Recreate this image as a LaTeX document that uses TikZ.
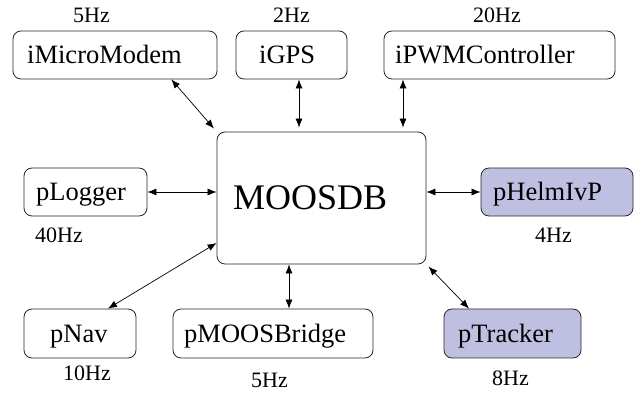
\documentclass[tikz,border=0pt]{standalone}
\usepackage{fontspec}
\setmainfont{Liberation Serif}
\usetikzlibrary{arrows.meta,calc}
\definecolor{lav}{RGB}{191,191,225}
\definecolor{edge}{RGB}{40,40,40}
\tikzset{
  box/.style={draw=edge, line width=0.8pt, rounded corners=8pt, inner sep=0pt},
  boxtxt/.style={font=\fontsize{26.5}{30}\selectfont, anchor=base west, inner sep=0pt},
  hz/.style={font=\fontsize{22}{26}\selectfont, anchor=base west, inner sep=0pt},
  link/.style={line width=0.7pt, {Latex[length=9pt,width=7pt]}-{Latex[length=9pt,width=7pt]}}
}
\begin{document}
\begin{tikzpicture}[x=1pt,y=-1pt]
\useasboundingbox (0,0) rectangle (641,393);
% boxes
\node[box, minimum width=204pt, minimum height=48pt] (mm) at (115,55) {};
\node[box, minimum width=111pt, minimum height=48pt] (gps) at (291.5,55) {};
\node[box, minimum width=231pt, minimum height=48pt] (pwm) at (499.5,55) {};
\node[box, minimum width=209pt, minimum height=132pt] (db) at (321.5,198) {};
\node[box, minimum width=123pt, minimum height=48pt] (log) at (85.5,192) {};
\node[box, fill=lav, minimum width=152pt, minimum height=48pt] (helm) at (557,192) {};
\node[box, minimum width=112pt, minimum height=49pt] (nav) at (80,333.5) {};
\node[box, minimum width=200pt, minimum height=49pt] (bridge) at (273,333.5) {};
\node[box, fill=lav, minimum width=137pt, minimum height=49pt] (trk) at (512.5,333.5) {};
% box texts
\node[boxtxt] (tmm) at (27,63.5) {iMicroModem};
\node[boxtxt] (tgps) at (259,63.5) {iGPS};
\node[boxtxt] (tpwm) at (395,63.5) {iPWMController};
\node[font=\fontsize{36}{40}\selectfont, anchor=base west, inner sep=0pt] (tdb) at (233,209.5) {MOOSDB};
\node[boxtxt] (tlog) at (36,200.5) {pLogger};
\node[boxtxt] (thelm) at (493,200.5) {pHelmIvP};
\node[boxtxt] (tnav) at (50,342.5) {pNav};
\node[boxtxt] (tbridge) at (184,342.5) {pMOOSBridge};
\node[boxtxt] (ttrk) at (458,342.5) {pTracker};
% rates
\node[hz] (hmm) at (73,23) {5Hz};
\node[hz] (hgps) at (273,23) {2Hz};
\node[hz] (hpwm) at (473,23) {20Hz};
\node[hz] (hlog) at (35,243) {40Hz};
\node[hz] (hhelm) at (535,243) {4Hz};
\node[hz] (hnav) at (63,381) {10Hz};
\node[hz] (hbridge) at (251,388) {5Hz};
\node[hz] (htrk) at (492,385) {8Hz};
% connector ends
\coordinate (m1) at ($(mm.south)!0.55!(mm.south east)$);
\coordinate (g1) at ([xshift=7.5pt]gps.south);
\coordinate (p1) at ([xshift=-96.5pt]pwm.south);
\coordinate (n1) at ([yshift=-45pt]db.west);
\coordinate (n2) at ([xshift=28pt]nav.north);
\coordinate (b1) at ([xshift=16pt]bridge.north);
\coordinate (t1) at ([xshift=-43.5pt]trk.north);
% connectors
\draw[link, shorten >=4pt] (m1) -- (db.north west);
\draw[link, shorten >=4pt] (g1) -- (g1 |- db.north);
\draw[link, shorten >=4pt] (p1) -- (p1 |- db.north);
\draw[link] (log.east) -- (log.east -| db.west);
\draw[link] (db.east |- helm.west) -- (helm.west);
\draw[link] (n1) -- (n2);
\draw[link] (b1) -- (b1 |- db.south);
\draw[link, shorten <=3pt] (db.south east) -- (t1);
\end{tikzpicture}
\end{document}
